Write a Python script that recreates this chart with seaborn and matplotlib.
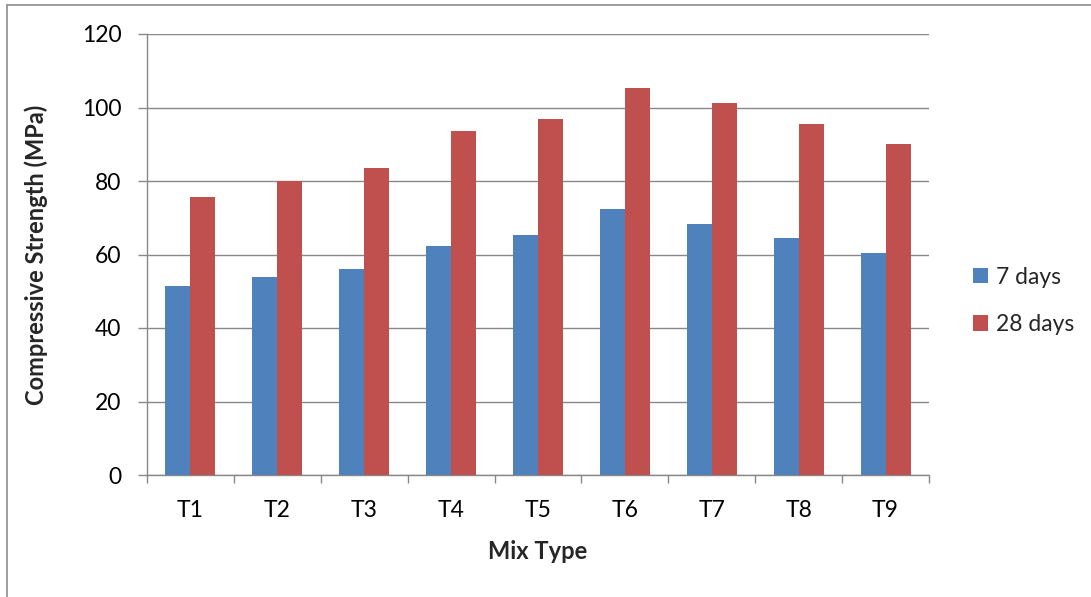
import matplotlib
matplotlib.use("Agg")
import matplotlib.pyplot as plt
from matplotlib.lines import Line2D
from matplotlib.patches import Patch
import seaborn as sns
import pandas as pd

# Compressive strength of each mix at two curing ages
mixes = ["T1", "T2", "T3", "T4", "T5", "T6", "T7", "T8", "T9"]
strength_7d = [51.5, 54.0, 56.1, 62.4, 65.4, 72.4, 68.4, 64.4, 60.4]
strength_28d = [75.7, 80.0, 83.6, 93.7, 96.9, 105.2, 101.3, 95.6, 90.1]
ages = ["7 days", "28 days"]
y_ticks = [0, 20, 40, 60, 80, 100, 120]

df = pd.DataFrame({
    "Mix": mixes * 2,
    "Strength": strength_7d + strength_28d,
    "Age": [ages[0]] * len(mixes) + [ages[1]] * len(mixes),
})

sns.set_theme(style="white")
plt.rcParams["font.family"] = ["Lato", "DejaVu Sans"]

colors = {"7 days": "#4F81BD", "28 days": "#C0504D"}
grid_gray = "#888888"
fs = 16.5
fs_label = 17

fig = plt.figure(figsize=(10.91, 5.97), dpi=100)
ax = fig.add_axes([147 / 1091, 1 - 475 / 597, (929 - 147) / 1091, (475 - 34) / 597])

sns.barplot(data=df, x="Mix", y="Strength", hue="Age", hue_order=ages,
            order=mixes, palette=colors, width=0.575, gap=0,
            saturation=1, linewidth=0, ax=ax, legend=False, zorder=3)

ax.set_ylim(0, 120)
ax.set_xlim(-0.5, len(mixes) - 0.5)
ax.set_yticks(y_ticks)
ax.set_yticklabels([str(v) for v in y_ticks], fontsize=fs, color="black")
ax.set_xticks(range(len(mixes)))
ax.set_xticklabels(mixes, fontsize=fs, color="black")

# horizontal gridlines
ax.yaxis.grid(True, color=grid_gray, linewidth=1.0, zorder=0)
ax.set_axisbelow(True)

for side in ["top", "right"]:
    ax.spines[side].set_visible(False)
for side in ["left", "bottom"]:
    ax.spines[side].set_color(grid_gray)
    ax.spines[side].set_linewidth(1.0)

# y ticks outward, x ticks at the category boundaries
ax.tick_params(axis="y", direction="out", length=6.5, width=1.0, color=grid_gray,
               left=True, pad=12)
ax.tick_params(axis="x", which="major", length=0, pad=18)
ax.set_xticks([i + 0.5 for i in range(-1, len(mixes))], minor=True)
ax.tick_params(axis="x", which="minor", direction="out", length=6, width=1.0,
               color=grid_gray, bottom=True)

ax.set_xlabel("Mix Type", fontsize=fs_label, fontweight="bold", labelpad=14)
ax.set_ylabel("Compressive Strength (MPa)", fontsize=fs_label, fontweight="bold",
              labelpad=24)

handles = [Patch(facecolor=colors[a], edgecolor="none") for a in ages]
fig.legend(handles, ages, loc="center left", bbox_to_anchor=(952 / 1091, 1 - 301 / 597),
           frameon=False, fontsize=fs, handlelength=0.65, handleheight=0.65,
           handletextpad=0.35, labelspacing=1.15)

# outer chart frame (top and left edges)
fig.add_artist(Line2D([7 / 1091, 1.0], [1 - 5 / 597, 1 - 5 / 597],
                      transform=fig.transFigure, color="#8c8c8c", linewidth=1.2))
fig.add_artist(Line2D([7 / 1091, 7 / 1091], [0.0, 1 - 5 / 597],
                      transform=fig.transFigure, color="#8c8c8c", linewidth=1.2))

fig.savefig("out.png", dpi=100, facecolor="white")
